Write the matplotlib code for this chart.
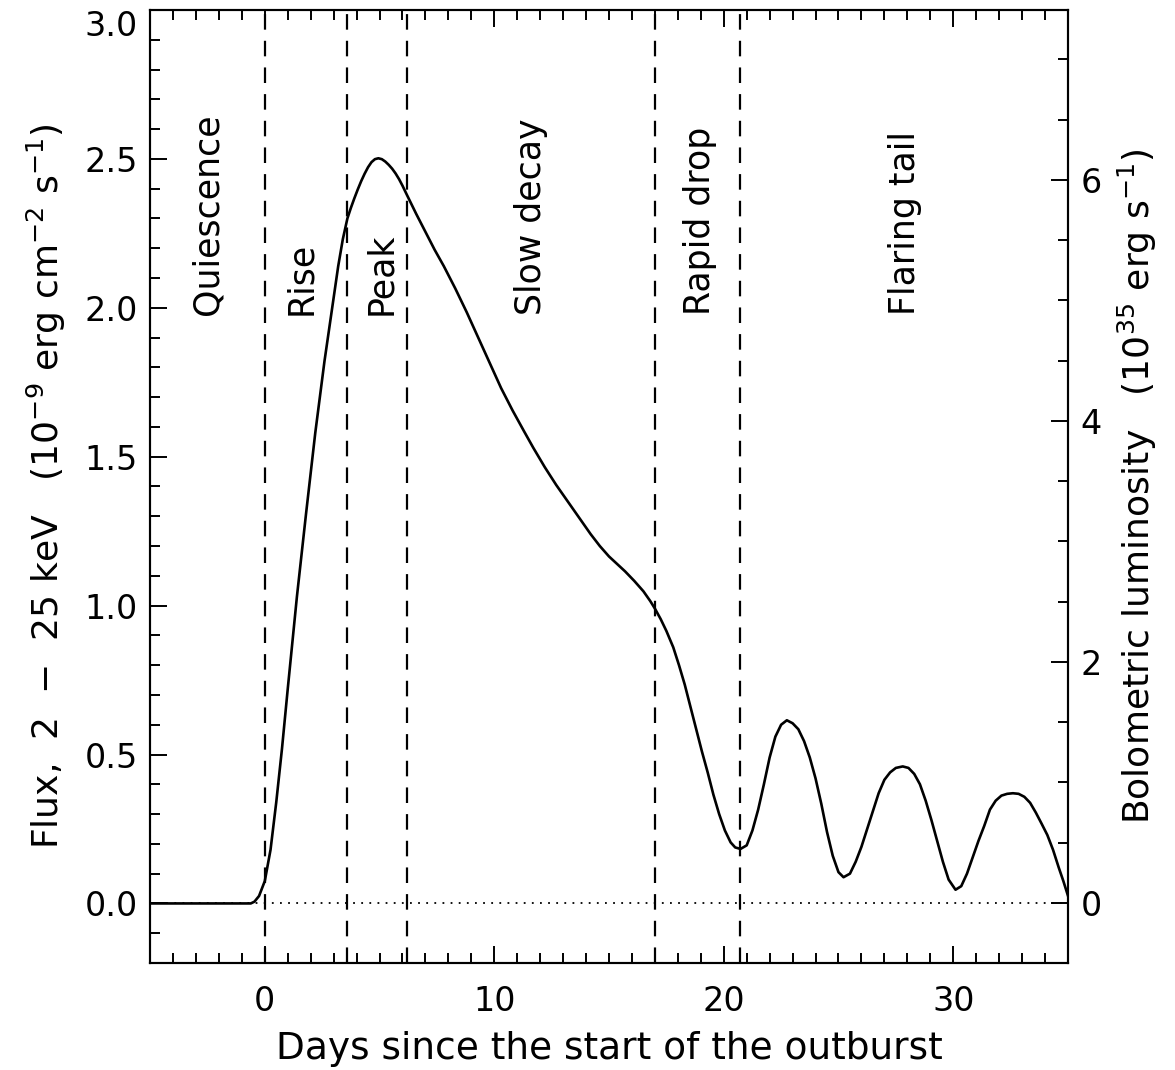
import numpy as np
import matplotlib
matplotlib.use("Agg")
import matplotlib.pyplot as plt

plt.rcParams["font.family"] = "DejaVu Sans"
plt.rcParams["mathtext.fontset"] = "dejavusans"

# light curve (days, flux in 1e-9 erg/cm2/s)
days = [-5, -1.5, -0.61, -0.45, -0.25, 0.0, 0.25, 0.5, 0.75, 1.0, 1.4, 1.8, 2.2, 2.6, 2.9,
        3.2, 3.4, 3.6, 3.75, 3.9, 4.05, 4.2, 4.35, 4.5, 4.65, 4.8, 4.95, 5.1, 5.25, 5.4,
        5.55, 5.7, 5.85, 6.0, 6.2, 6.6, 7.0, 7.4, 7.8,
        8.3, 8.8, 9.3, 9.8, 10.3, 10.8, 11.3, 11.7, 12.2, 12.7, 13.2, 13.7, 14.2, 14.6, 15.0,
        15.35, 15.7, 16.1, 16.5, 16.8, 17.0, 17.25, 17.5, 17.8, 18.05, 18.3, 18.55, 18.8, 19.05, 19.3,
        19.55, 19.8, 20.05, 20.3, 20.5, 20.73, 21.0, 21.25, 21.5, 21.75, 22.0, 22.25, 22.5, 22.75, 23.0,
        23.25, 23.5, 23.75, 24.0, 24.25, 24.5, 24.75, 25.0, 25.22, 25.5, 25.75, 26.0, 26.25, 26.5, 26.75,
        27.0, 27.25, 27.5, 27.8, 28.05, 28.3, 28.55, 28.8, 29.05, 29.3, 29.55, 29.8, 30.1, 30.35, 30.6,
        30.85, 31.1, 31.35, 31.6, 31.85, 32.1, 32.35, 32.6, 32.85, 33.1, 33.35, 33.6, 33.85, 34.1, 34.35,
        34.6, 34.8, 35.0]
flux = [0, 0, 0, 0.006, 0.025, 0.075, 0.18, 0.34, 0.52, 0.72, 1.03, 1.31, 1.58, 1.82, 1.98,
        2.14, 2.23, 2.30, 2.335, 2.367, 2.397, 2.425, 2.45, 2.472, 2.489, 2.499, 2.502, 2.499, 2.491, 2.48,
        2.467, 2.451, 2.432, 2.41, 2.378, 2.315, 2.255, 2.195, 2.14,
        2.065, 1.985, 1.90, 1.815, 1.73, 1.655, 1.585, 1.53, 1.465, 1.405, 1.35, 1.295, 1.24, 1.20, 1.165,
        1.14, 1.115, 1.083, 1.048, 1.015, 0.99, 0.955, 0.915, 0.86, 0.80, 0.735, 0.66, 0.585, 0.51, 0.44,
        0.365, 0.30, 0.245, 0.205, 0.188, 0.183, 0.195, 0.245, 0.315, 0.40, 0.49, 0.56, 0.60, 0.615, 0.605,
        0.585, 0.545, 0.49, 0.42, 0.335, 0.24, 0.16, 0.105, 0.088, 0.10, 0.14, 0.19, 0.25, 0.31, 0.37,
        0.415, 0.44, 0.455, 0.46, 0.455, 0.435, 0.40, 0.345, 0.28, 0.21, 0.14, 0.08, 0.046, 0.058, 0.10,
        0.155, 0.21, 0.26, 0.315, 0.345, 0.362, 0.368, 0.37, 0.368, 0.358, 0.338, 0.305, 0.268, 0.23, 0.18,
        0.12, 0.075, 0.026]

phase_bounds = [0, 3.6, 6.2, 17.0, 20.7]
phase_names = ["Quiescence", "Rise", "Peak", "Slow decay", "Rapid drop", "Flaring tail"]
phase_xpos = [-2.48, 1.57, 5.05, 11.58, 18.98, 27.9]

lum_per_flux = 2.47   # 1e35 erg/s per 1e-9 erg/cm2/s

fig = plt.figure(figsize=(11.75, 10.7), dpi=100)
ax = fig.add_axes([0.1277, 0.100, 0.7812, 0.8907])

ax.plot(days, flux, color="black", lw=1.9, zorder=3)
ax.axhline(0, color="black", lw=1.3, linestyle=(0, (1, 3.5)), zorder=2)
for xb in phase_bounds:
    ax.axvline(xb, color="black", lw=1.6, linestyle=(0, (7, 5)), zorder=2)

for name, xp in zip(phase_names, phase_xpos):
    ax.text(xp, 1.975, name, rotation=90, ha="center", va="bottom", fontsize=25)

ax.set_xlim(-5, 35)
ax.set_ylim(-0.2, 3.0)
ax.set_xticks([0, 10, 20, 30])
ax.set_xticks(np.arange(-5, 36, 1), minor=True)
ax.set_yticks(np.arange(0, 3.01, 0.5))
ax.set_yticks(np.arange(-0.2, 3.01, 0.1), minor=True)
ylabels = ax.set_yticklabels(["%.1f" % v for v in np.arange(0, 3.01, 0.5)])
ylabels[-1].set_va("top")   # keep the top label inside the figure

ax.tick_params(axis="both", which="both", direction="in", width=1.4, labelsize=24)
ax.tick_params(axis="both", which="major", length=12)
ax.tick_params(axis="both", which="minor", length=7)
ax.tick_params(axis="x", which="both", top=True, pad=16)
ax.tick_params(axis="y", which="both", right=False, pad=9)
for sp in ax.spines.values():
    sp.set_linewidth(1.5)

ax.set_xlabel("Days since the start of the outburst", fontsize=27, labelpad=9)
ax.set_ylabel(r"Flux,  2  $-$  25 keV   (10$^{-9}$ erg cm$^{-2}$ s$^{-1}$)", fontsize=26, labelpad=12)

ax2 = ax.twinx()
ax2.set_ylim(-0.2 * lum_per_flux, 3.0 * lum_per_flux)
ax2.set_yticks([0, 2, 4, 6])
ax2.set_yticks(np.arange(-0.5, 7.5, 0.5), minor=True)
ax2.tick_params(axis="y", which="both", direction="in", width=1.4, labelsize=24, pad=9)
ax2.tick_params(axis="y", which="major", length=12)
ax2.tick_params(axis="y", which="minor", length=7)
ax2.set_ylabel(r"Bolometric luminosity   (10$^{35}$ erg s$^{-1}$)", fontsize=26, labelpad=10)
for sp in ax2.spines.values():
    sp.set_linewidth(1.5)

fig.savefig("out.png", dpi=100)
